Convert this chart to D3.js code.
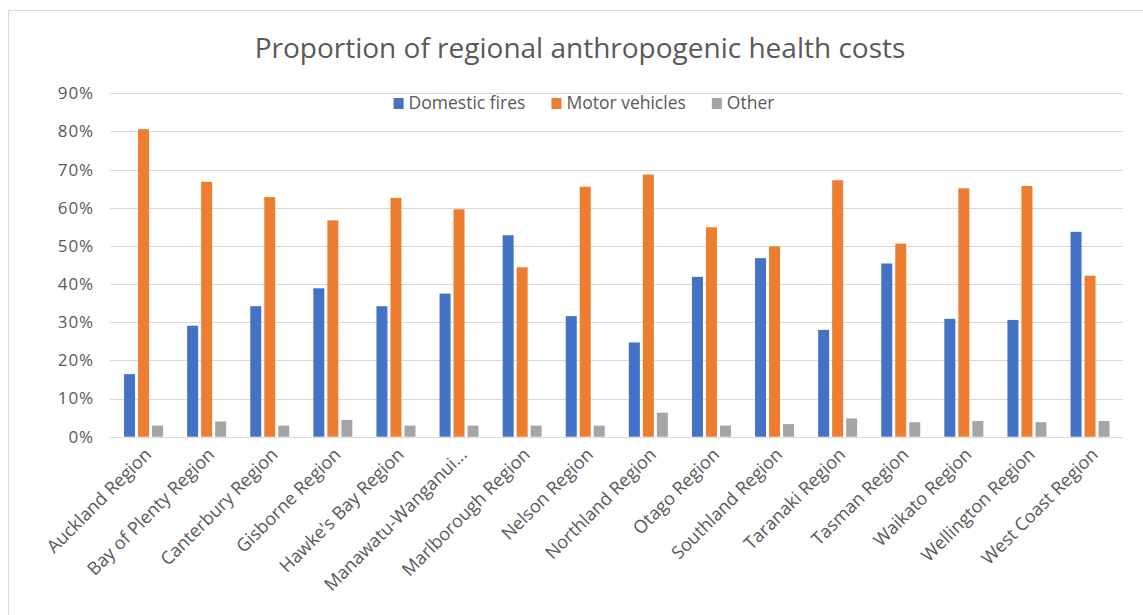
<!DOCTYPE html>
<html>
<head>
<meta charset="utf-8">
<script src="https://d3js.org/d3.v7.min.js"></script>
<style>
  html, body { margin: 0; padding: 0; background: #ffffff; }
  svg { display: block; }
  text { font-family: "Open Sans", sans-serif; fill: #595959; }
</style>
</head>
<body>
<svg id="chart" width="1143" height="615"></svg>
<script>
const title = "Proportion of regional anthropogenic health costs";
const categories = [
  "Auckland Region", "Bay of Plenty Region", "Canterbury Region", "Gisborne Region",
  "Hawke's Bay Region", "Manawatu-Wanganui...", "Marlborough Region", "Nelson Region",
  "Northland Region", "Otago Region", "Southland Region", "Taranaki Region",
  "Tasman Region", "Waikato Region", "Wellington Region", "West Coast Region"
];
const seriesNames = ["Domestic fires", "Motor vehicles", "Other"];
const domesticFires = [0.164, 0.291, 0.342, 0.389, 0.342, 0.375, 0.528, 0.316, 0.247, 0.419, 0.468, 0.280, 0.454, 0.309, 0.306, 0.537];
const motorVehicles = [0.806, 0.668, 0.628, 0.567, 0.626, 0.596, 0.444, 0.655, 0.687, 0.549, 0.499, 0.672, 0.506, 0.651, 0.657, 0.422];
const other = [0.029, 0.040, 0.029, 0.044, 0.029, 0.029, 0.029, 0.029, 0.063, 0.029, 0.033, 0.048, 0.038, 0.041, 0.038, 0.041];
const yTicks = [0, 0.1, 0.2, 0.3, 0.4, 0.5, 0.6, 0.7, 0.8, 0.9];
const colors = ["#4472C4", "#ED7D31", "#A5A5A5"];

const seriesValues = [domesticFires, motorVehicles, other];
const svg = d3.select("#chart");

// chart border
svg.append("rect")
  .attr("x", 8.5).attr("y", 10.5)
  .attr("width", 1160).attr("height", 700)
  .attr("fill", "none").attr("stroke", "#d9d9d9").attr("stroke-width", 1);

const plotLeft = 110, plotRight = 1123;
const x0 = d3.scaleBand().domain(categories).range([112, 1121.6]).paddingInner(0).paddingOuter(0);
const x1 = d3.scaleBand().domain(seriesNames).range([-19.5, 19.5]).paddingInner(0.214);
const y = d3.scaleLinear().domain([0, 0.9]).range([436.7, 93.3]);

// gridlines
svg.append("g")
  .selectAll("line")
  .data(yTicks)
  .join("line")
  .attr("x1", plotLeft).attr("x2", plotRight)
  .attr("y1", d => Math.round(y(d)) + 0.5).attr("y2", d => Math.round(y(d)) + 0.5)
  .attr("stroke", "#d9d9d9").attr("stroke-width", 1);

// y axis labels
const yAxis = d3.axisLeft(y).tickValues(yTicks).tickFormat(d3.format(".0%")).tickSize(0).tickPadding(0);
const yg = svg.append("g").attr("transform", "translate(94,0)").call(yAxis);
yg.select(".domain").remove();
yg.selectAll("text")
  .style("font-family", "'Open Sans', sans-serif")
  .style("font-size", "17px")
  .style("letter-spacing", "0.9px")
  .attr("fill", "#595959");

// bars
const groups = svg.append("g")
  .selectAll("g")
  .data(categories)
  .join("g")
  .attr("transform", d => `translate(${x0(d) + x0.bandwidth() / 2},0)`);

groups.selectAll("rect")
  .data((d, i) => seriesNames.map((s, j) => ({ s, v: seriesValues[j][i], j })))
  .join("rect")
  .attr("x", d => x1(d.s))
  .attr("width", x1.bandwidth())
  .attr("y", d => y(d.v))
  .attr("height", d => y(0) - y(d.v))
  .attr("fill", d => colors[d.j]);

// baseline redraw
svg.append("line")
  .attr("x1", plotLeft).attr("x2", plotRight)
  .attr("y1", Math.round(y(0)) + 0.5).attr("y2", Math.round(y(0)) + 0.5)
  .attr("stroke", "#d9d9d9");

// x axis labels
const xAxis = d3.axisBottom(x0).tickSize(0).tickPadding(0);
const xg = svg.append("g").attr("transform", `translate(0,${y(0)})`).call(xAxis);
xg.select(".domain").remove();
xg.selectAll("text")
  .style("font-family", "'Open Sans', sans-serif")
  .style("font-size", "18px")
  .attr("fill", "#595959")
  .attr("text-anchor", "end")
  .attr("dy", null)
  .attr("y", 0)
  .attr("transform", "translate(9,19) rotate(-45)");

// title
svg.append("text")
  .attr("x", 580).attr("y", 58)
  .attr("text-anchor", "middle")
  .style("font-size", "28px")
  .text(title);

// legend
const legend = svg.append("g");
const items = legend.selectAll("g").data(seriesNames).join("g");
items.append("rect")
  .attr("width", 10).attr("height", 11)
  .attr("y", -11)
  .attr("fill", (d, i) => colors[i]);
items.append("text")
  .attr("x", 15).attr("y", 0)
  .style("font-size", "17.5px")
  .text(d => d);
let cursor = 0;
const widths = [];
items.each(function () {
  widths.push(this.getBBox().width);
});
const gap = 26;
const total = d3.sum(widths) + gap * (widths.length - 1);
cursor = 584 - total / 2;
items.attr("transform", (d, i) => {
  const xPos = cursor;
  cursor += widths[i] + gap;
  return `translate(${xPos},109)`;
});
</script>
</body>
</html>
